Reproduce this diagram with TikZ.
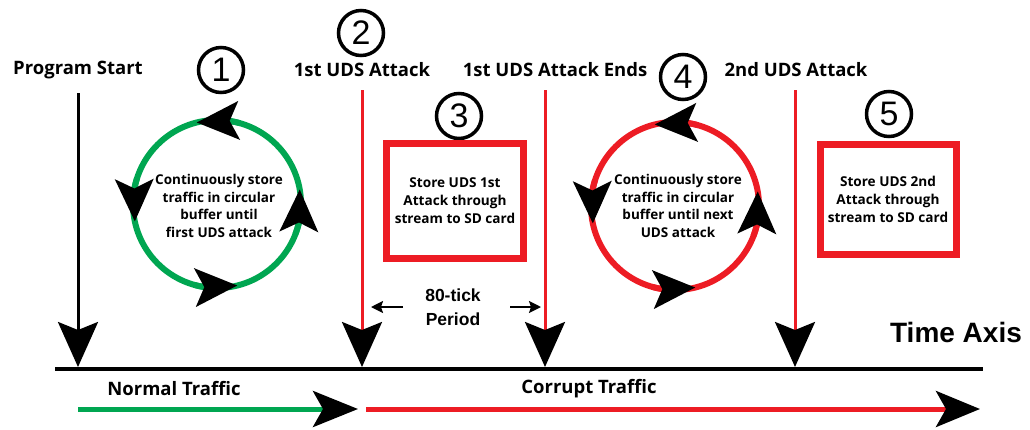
\documentclass[tikz,border=0pt]{standalone}
\usepackage{fontspec}
\setmainfont{Open Sans}
\newfontfamily\arialfont{Liberation Sans}
\usetikzlibrary{arrows.meta,bending}
\definecolor{bufgreen}{RGB}{0,166,81}
\definecolor{atkred}{RGB}{237,28,36}
\tikzset{
  label text/.style={font=\bfseries\fontsize{18.5}{20}\selectfont, inner sep=0pt},
  loop text/.style={font=\bfseries\fontsize{13.5}{17.7}\selectfont, align=center, inner sep=0pt},
  box text/.style={font=\bfseries\fontsize{13.6}{18}\selectfont, align=center, inner sep=0pt},
  stepnum/.style={circle, draw=black, line width=3.5pt, minimum size=45pt, inner sep=0pt,
    font=\arialfont\fontsize{34}{34}\selectfont},
  storebox/.style={draw=atkred, line width=7pt, inner sep=0pt},
  bigtip/.style={-{Stealth[black,length=45pt,width=40pt,inset=8pt]}},
  looptip/.style={-{Stealth[black,length=42pt,width=38pt,inset=9pt,flex=1]}},
  event/.style={line width=3pt, bigtip},
}
\begin{document}
\begin{tikzpicture}[x=1pt,y=-1pt]
\useasboundingbox (0,0) rectangle (1030,429);

% event markers along the time line
\node[label text] (start)  at (78,70)  {Program Start};
\node[label text] (atk1)   at (362,70) {1st UDS Attack};
\node[label text] (atk1e)  at (555,70) {1st UDS Attack Ends};
\node[label text] (atk2)   at (796,70) {2nd UDS Attack};

\coordinate (s0) at (78,93);   \coordinate (s1) at (78,367);
\coordinate (a0) at (362,90);  \coordinate (a1) at (362,367);
\coordinate (e0) at (545,90);  \coordinate (e1) at (545,367);
\coordinate (b0) at (795,90);  \coordinate (b1) at (795,367);

\draw[event, black]  (s0) -- (s1);
\draw[event, atkred] (a0) -- (a1);
\draw[event, atkred] (e0) -- (e1);
\draw[event, atkred] (b0) -- (b1);

% time axis
\coordinate (ax0) at (55,369);
\coordinate (ax1) at (983,369);
\draw[line width=4pt] (ax0) -- (ax1);
\node[font=\arialfont\bfseries\fontsize{28}{28}\selectfont, inner sep=0pt] (taxis) at (956,332) {Time Axis};

% step numbers
\node[stepnum] (n1) at (221,70)  {1};
\node[stepnum] (n2) at (361,33)  {2};
\node[stepnum] (n3) at (459,116) {3};
\node[stepnum] (n4) at (683,77)  {4};
\node[stepnum] (n5) at (889,114) {5};

% circular buffer loops
\coordinate (c1) at (217,204);
\coordinate (c2) at (675,206);
\draw[bufgreen, line width=6pt] (c1) circle[radius=84];
\draw[atkred, line width=6pt] (c2) circle[radius=84];
\foreach \c/\col in {c1/bufgreen, c2/atkred}{
  \draw[\col, line width=6pt, looptip] (\c) ++(-74:84) arc[start angle=-74, end angle=-104, radius=84];
  \draw[\col, line width=6pt, looptip] (\c) ++(-162:84) arc[start angle=-162, end angle=-192, radius=84];
  \draw[\col, line width=6pt, looptip] (\c) ++(-254:84) arc[start angle=-254, end angle=-284, radius=84];
  \draw[\col, line width=6pt, looptip] (\c) ++(21:84) arc[start angle=21, end angle=-10, radius=84];
}
\node[loop text] (loop1) at (219,206) {Continuously store\\traffic in circular\\buffer until\\first UDS attack};
\node[loop text] (loop2) at (678,206) {Continuously store\\traffic in circular\\buffer until next\\UDS attack};

% SD card storage boxes
\node[storebox, minimum width=137pt, minimum height=115pt] (box1) at (455,201) {};
\node[box text] at (box1.center) {Store UDS 1st\\Attack through\\stream to SD card};
\node[storebox, minimum width=136pt, minimum height=110pt] (box2) at (888,199) {};
\node[box text] at (box2.center) {Store UDS 2nd\\Attack through\\stream to SD card};

% attack window
\node[font=\arialfont\bfseries\fontsize{17.5}{24}\selectfont, align=center, inner sep=0pt] (tick) at (453,307) {80-tick\\Period};
\coordinate (p0) at (403,307); \coordinate (p1) at (371,307);
\coordinate (q0) at (510,307); \coordinate (q1) at (541,307);
\draw[line width=2pt, -{Stealth[length=12pt,width=12pt,inset=2pt]}] (p0) -- (p1);
\draw[line width=2pt, -{Stealth[length=12pt,width=12pt,inset=2pt]}] (q0) -- (q1);

% traffic phases
\node[label text] (normal)  at (174,389) {Normal Traffic};
\node[label text] (corrupt) at (589,389) {Corrupt Traffic};
\coordinate (g0) at (78,409);  \coordinate (g1) at (358,409);
\coordinate (r0) at (366,409); \coordinate (r1) at (980,409);
\draw[bufgreen, line width=5pt, -{Stealth[black,length=45pt,width=36pt,inset=10pt]}] (g0) -- (g1);
\draw[atkred, line width=5pt, -{Stealth[black,length=44pt,width=36pt,inset=10pt]}] (r0) -- (r1);
\end{tikzpicture}
\end{document}
